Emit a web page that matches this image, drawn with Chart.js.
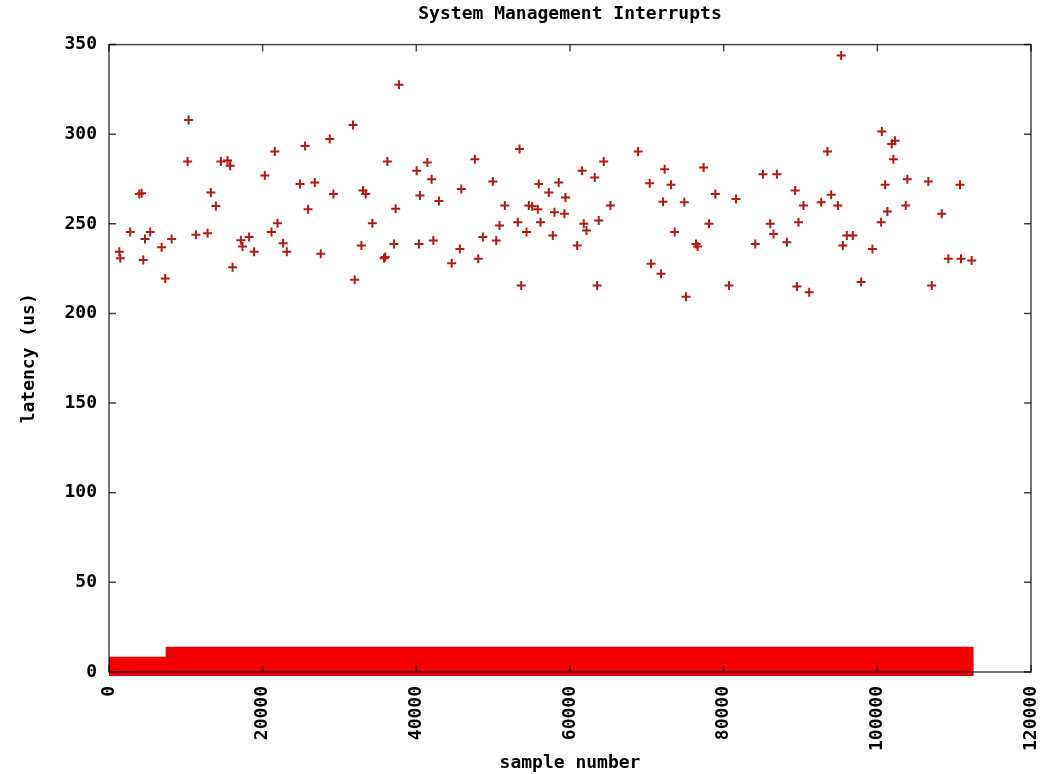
<!DOCTYPE html>
<html lang="en">
<head>
  <meta charset="UTF-8" />
  <title>System Management Interrupts</title>
  <script src="https://cdn.jsdelivr.net/npm/chart.js"></script>
  <style>
    body { margin: 0; background: #fff; overflow: hidden; }
    .wrap { width: 1043px; height: 774px; position: relative; }
  </style>
</head>
<body>
  <div class="wrap"><canvas id="smiChart"></canvas></div>

  <script>
    // high latency samples (sample number, latency in us)
    const smiX = [1340, 1470, 2770, 3940, 4250, 4460, 4680, 5370, 6850, 7320, 8150, 10230, 10360, 11310, 12830, 13260, 13910,
      14560, 15430, 15770, 16080, 17160, 17380, 18240, 18890, 20280, 21150, 21580, 21930, 22660, 23140, 24870, 25520, 25910,
      26780, 27560, 28730, 29210, 31760, 31980, 32850, 33060, 33410, 34280, 35800, 35950, 36230, 37090, 37310, 37740, 40040,
      40340, 40470, 41430, 41990, 42210, 42940, 44600, 45670, 45850, 47620, 48060, 48660, 49960, 50400, 50830, 51520, 53210,
      53430, 53650, 54340, 54640, 55080, 55810, 55940, 56160, 57240, 57760, 57980, 58530, 59280, 59410, 60930, 61580, 61790,
      62140, 63220, 63530, 63740, 64390, 65260, 68860, 70370, 70550, 71850, 72110, 72320, 73150, 73620, 74880, 75100, 76400,
      76610, 77390, 78090, 78910, 80690, 81600, 84110, 85110, 86060, 86490, 86930, 88230, 89310, 89530, 89740, 90390, 91130,
      92690, 93510, 93990, 94860, 95290, 95510, 96030, 96810, 97890, 99360, 100490, 100580, 101010, 101310, 101880, 102090,
      102310, 103690, 103900, 106640, 107080, 108380, 109240, 110760, 110890, 112280];
    const smiY = [234.5, 230.8, 245.4, 266.7, 267.1, 229.9, 241.6, 245.4, 237.0, 219.5, 241.5, 284.8, 308.0, 243.9, 244.8, 267.5, 260.0,
      284.8, 285.3, 282.4, 225.8, 240.8, 237.4, 242.6, 234.5, 277.0, 245.4, 290.3, 250.4, 239.2, 234.5, 272.3, 293.5, 258.2,
      273.1, 233.3, 297.3, 266.7, 305.2, 218.8, 237.9, 268.6, 266.7, 250.4, 230.8, 231.5, 284.8, 238.8, 258.4, 327.6, 279.6,
      238.8, 265.8, 284.2, 274.9, 240.7, 262.8, 228.0, 236.0, 269.4, 286.1, 230.5, 242.6, 273.6, 240.7, 249.1, 260.3, 250.9,
      291.7, 215.6, 245.4, 260.3, 259.8, 258.2, 272.3, 250.9, 267.5, 243.5, 256.5, 273.1, 255.6, 264.7, 237.9, 279.6, 250.0,
      246.3, 275.9, 215.6, 251.9, 284.8, 260.2, 290.3, 272.7, 227.7, 222.1, 262.4, 280.5, 271.8, 245.4, 262.0, 209.4, 238.8,
      237.4, 281.4, 250.0, 266.6, 215.6, 263.8, 238.8, 277.7, 250.0, 244.4, 277.7, 239.8, 268.6, 215.1, 250.9, 260.3, 211.9,
      262.0, 290.3, 266.2, 260.3, 343.9, 237.9, 243.5, 243.5, 217.5, 236.0, 250.9, 301.5, 271.8, 256.9, 294.6, 286.1,
      296.3, 260.2, 274.9, 273.6, 215.6, 255.6, 230.5, 271.8, 230.5, 229.5];

    // the ~112k normal samples form a solid band near zero: its outline
    const bandX = [0, 7900, 7900, 112000, 112000, 0, 0];
    const bandY = [6.3, 6.3, 11.9, 11.9, 0, 0, 6.3];

    const xTicks = [0, 20000, 40000, 60000, 80000, 100000, 120000];
    const yTicks = [0, 50, 100, 150, 200, 250, 300, 350];

    const FONT = { family: "'DejaVu Sans Mono', monospace", size: 18, weight: 'bold' };

    // gnuplot style frame with inward tick marks on all four sides
    const framePlugin = {
      id: 'frame',
      afterDatasetsDraw(chart) {
        const { ctx, chartArea: a, scales: { x, y } } = chart;
        ctx.save();
        ctx.strokeStyle = 'rgba(0,0,0,0.72)';
        ctx.lineWidth = 1.5;
        ctx.strokeRect(a.left, a.top, a.right - a.left, a.bottom - a.top);
        ctx.beginPath();
        xTicks.forEach(v => {
          const px = x.getPixelForValue(v);
          ctx.moveTo(px, a.bottom); ctx.lineTo(px, a.bottom - 7);
          ctx.moveTo(px, a.top); ctx.lineTo(px, a.top + 7);
        });
        yTicks.forEach(v => {
          const py = y.getPixelForValue(v);
          ctx.moveTo(a.left, py); ctx.lineTo(a.left + 7, py);
          ctx.moveTo(a.right, py); ctx.lineTo(a.right - 7, py);
        });
        ctx.stroke();
        ctx.restore();
      }
    };

    new Chart(document.getElementById('smiChart'), {
      type: 'scatter',
      data: {
        datasets: [
          {
            label: 'smi',
            data: smiX.map((v, i) => ({ x: v, y: smiY[i] })),
            pointStyle: 'cross',
            pointRadius: 4.5,
            pointBorderWidth: 2,
            pointBorderColor: '#b51a1a',
            showLine: false,
            order: 1
          },
          {
            label: 'band',
            data: bandX.map((v, i) => ({ x: v, y: bandY[i] })),
            showLine: true,
            fill: 'shape',
            backgroundColor: '#f40000',
            borderColor: '#f40000',
            borderWidth: 8,
            borderJoinStyle: 'miter',
            pointRadius: 0,
            tension: 0,
            clip: { left: 0, top: 8, right: 8, bottom: 8 },
            order: 2
          }
        ]
      },
      options: {
        responsive: true,
        maintainAspectRatio: false,
        animation: false,
        layout: { padding: { left: 0, right: 12, top: 0, bottom: 0 } },
        plugins: {
          legend: { display: false },
          tooltip: { enabled: false },
          title: {
            display: true,
            fullSize: false,
            text: 'System Management Interrupts',
            color: '#000',
            font: FONT,
            padding: { top: 4, bottom: 19 }
          }
        },
        scales: {
          x: {
            type: 'linear',
            min: 0,
            max: 120000,
            grid: { display: false, drawTicks: false },
            border: { display: false },
            afterBuildTicks: s => { s.ticks = xTicks.map(v => ({ value: v })); },
            ticks: {
              minRotation: 90,
              maxRotation: 90,
              autoSkip: false,
              padding: 14,
              color: '#000',
              font: FONT,
              callback: v => String(v)
            },
            title: { display: true, text: 'sample number', color: '#000', font: FONT, padding: { top: 0, bottom: 0 } },
            afterFit: s => { s.height = 102; s.paddingLeft = 0; s.paddingRight = 0; }
          },
          y: {
            min: 0,
            max: 350,
            grid: { display: false, drawTicks: false },
            border: { display: false },
            afterBuildTicks: s => { s.ticks = yTicks.map(v => ({ value: v })); },
            ticks: { padding: 12, color: '#000', font: FONT, callback: v => String(v) },
            title: { display: true, text: 'latency (us)', color: '#000', font: FONT, padding: { top: 19, bottom: 0 } },
            afterFit: s => { s.width = 109; s.paddingTop = 0; s.paddingBottom = 0; }
          }
        }
      },
      plugins: [framePlugin]
    });
  </script>
</body>
</html>
